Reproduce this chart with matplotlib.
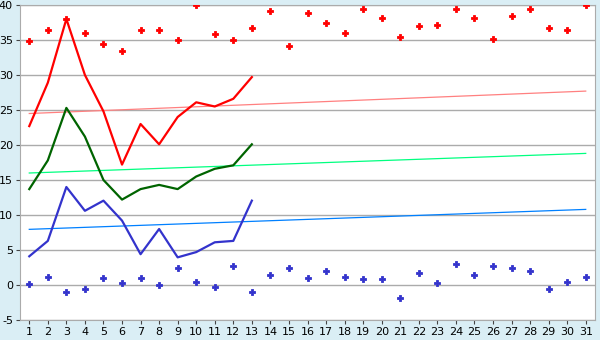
import matplotlib
matplotlib.use('Agg')
import matplotlib.pyplot as plt

plt.rcParams['axes.unicode_minus'] = False

# x categories 1..31
days = list(range(1, 32))

# upper scatter (red) and lower scatter (blue)
red_pts = [34.8, 36.5, 38.0, 36.0, 34.4, 33.5, 36.4, 36.5, 35.0, 40.0,
           35.8, 35.0, 36.7, 39.2, 34.1, 38.8, 37.4, 36.0, 39.4, 38.2,
           35.4, 37.0, 37.1, 39.4, 38.2, 35.2, 38.5, 39.4, 36.7, 36.5, 40.0]
blue_pts = [0.2, 1.2, -1.05, -0.6, 0.95, 0.25, 0.95, -0.05, 2.4, 0.4,
            -0.35, 2.65, -1.05, 1.5, 2.4, 0.95, 1.95, 1.1, 0.8, 0.8,
            -1.9, 1.65, 0.25, 2.95, 1.4, 2.65, 2.5, 1.95, -0.6, 0.5, 1.1]

# lines for the first 13 days
red_line = [22.7, 28.9, 38.0, 30.0, 24.8, 17.2, 23.0, 20.1, 24.0, 26.1, 25.5, 26.6, 29.7]
green_line = [13.7, 17.8, 25.3, 21.2, 15.0, 12.2, 13.7, 14.3, 13.7, 15.5, 16.6, 17.1, 20.1]
blue_line = [4.1, 6.3, 14.0, 10.6, 12.05, 9.2, 4.4, 8.0, 3.95, 4.7, 6.1, 6.3, 12.05]

# trend lines: values at day 1 and day 31
trend_x = [1, 31]
red_trend = [24.5, 27.7]
green_trend = [16.0, 18.8]
blue_trend = [7.95, 10.8]

bg = '#daeef5'
grid_c = '#ababab'

fig = plt.figure(figsize=(6, 3.4), dpi=100, facecolor=bg)
ax = fig.add_axes([20 / 600, 20 / 340, 575 / 600, 315 / 340])
ax.set_facecolor('white')

ax.plot(trend_x, red_trend, color='#ff8080', lw=0.9, zorder=2)
ax.plot(trend_x, green_trend, color='#00ff80', lw=0.9, zorder=2)
ax.plot(trend_x, blue_trend, color='#0080ff', lw=0.9, zorder=2)

n = len(red_line)
ax.plot(days[:n], red_line, color='#ff0000', lw=1.6, zorder=3)
ax.plot(days[:n], green_line, color='#006400', lw=1.6, zorder=3)
ax.plot(days[:n], blue_line, color='#3333cc', lw=1.6, zorder=3)

ax.plot(days, red_pts, ls='none', marker='P', ms=5, color='#ff0000',
        mec='#ff0000', mew=0.6, zorder=4)
ax.plot(days, blue_pts, ls='none', marker='P', ms=5, color='#3333cc',
        mec='#3333cc', mew=0.6, zorder=4)

ax.set_xlim(0.5, 31.5)
ax.set_ylim(-5, 40)
ax.set_xticks(days)
ax.set_yticks(range(-5, 41, 5))
ax.yaxis.grid(True, color=grid_c, lw=1)
ax.set_axisbelow(True)
for s in ax.spines.values():
    s.set_color(grid_c)
ax.tick_params(axis='both', labelcolor='black', labelsize=8, length=3,
               width=0.8, pad=2, color='#444444')

fig.savefig('out.png', dpi=100, facecolor=bg)
